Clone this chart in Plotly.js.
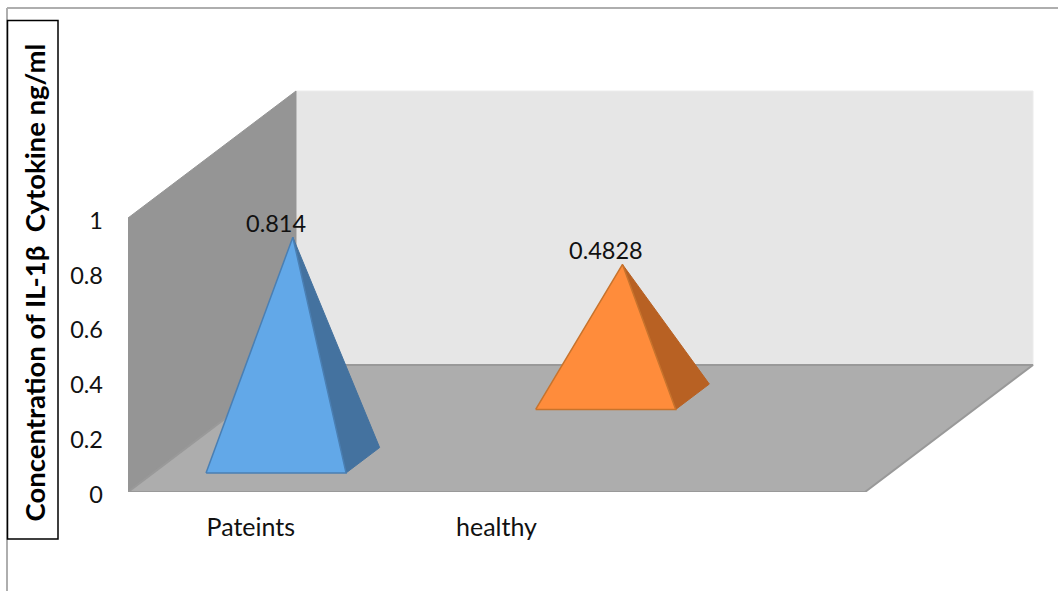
<!DOCTYPE html>
<html>
<head>
<meta charset="utf-8">
<script src="https://cdn.plot.ly/plotly-3.0.1.min.js"></script>
<style>html,body{margin:0;padding:0;background:#fff}#chart{width:1058px;height:591px}</style>
</head>
<body>
<div id="chart"></div>
<script>
// Cytokine concentration per group
const categories = ['Pateints', 'healthy'];
const values = [0.814, 0.4828];
const valueLabels = ['0.814', '0.4828'];
const valueTicks = [0, 0.2, 0.4, 0.6, 0.8, 1];
const seriesDepths = [0.25, 0.75];
const frontColors = ['#62a8e8', '#ff8c3b'];
const sideColors = ['#44729f', '#b86123'];
const edgeColors = ['#4a7fb3', '#c8732c'];

const W = 1058, H = 591;
const LEFT = 128, FLOOR_Y = 492;
const CATEGORY_PX = 245.67, VALUE_PX = 274;
const DEPTH_SHIFT_X = 168 / CATEGORY_PX, DEPTH_SHIFT_Y = 127 / VALUE_PX;
const HALF_WIDTH = 0.285, HALF_DEPTH = 0.10;
const FONT = 'Lato, Carlito, Calibri, sans-serif';

// Oblique projection of (category, depth, value) onto the plain x/y axes.
const project = (u, d, v) => [u + d * DEPTH_SHIFT_X, v + d * DEPTH_SHIFT_Y];

function face(points, fill, line, width) {
  const xy = points.map(p => project(p[0], p[1], p[2]));
  return {
    type: 'scatter', mode: 'lines', fill: 'toself', fillcolor: fill,
    x: xy.map(p => p[0]), y: xy.map(p => p[1]),
    line: {color: line, width: width}, hoverinfo: 'skip',
    cliponaxis: false, showlegend: false
  };
}

const UMIN = -0.5, UMAX = 2.5;
const traces = [
  face([[UMIN,1,0],[UMAX,1,0],[UMAX,1,1],[UMIN,1,1],[UMIN,1,0]], '#e6e6e6', '#ececec', 1),
  face([[UMIN,0,0],[UMIN,1,0],[UMIN,1,1],[UMIN,0,1],[UMIN,0,0]], '#959595', '#959595', 1),
  face([[UMIN,0,0],[UMAX,0,0],[UMAX,1,0],[UMIN,1,0],[UMIN,0,0]], '#adadad', '#999999', 2)
];

const annotations = [];
values.forEach((v, i) => {
  const d = seriesDepths[i];
  const bl = [i - HALF_WIDTH, d - HALF_DEPTH, 0];
  const br = [i + HALF_WIDTH, d - HALF_DEPTH, 0];
  const bb = [i + HALF_WIDTH, d + HALF_DEPTH, 0];
  const apex = [i, d, v];
  traces.push(face([br, bb, apex, br], sideColors[i], sideColors[i], 1));
  traces.push(face([bl, br, apex, bl], frontColors[i], edgeColors[i], 1.5));
  const top = project(apex[0], apex[1], apex[2]);
  annotations.push({
    x: top[0], y: top[1], xref: 'x', yref: 'y', text: valueLabels[i], showarrow: false,
    xshift: -16.5, yshift: 14, font: {family: FONT, size: 23.5, color: '#111'}
  });
});

// Pixel position to paper fraction of the plot area
const px = x => (x - LEFT) / (W - LEFT);
const py = y => 1 - y / FLOOR_Y;

annotations.push({
  x: px(33.5), y: py(283), xref: 'paper', yref: 'paper', xanchor: 'center', yanchor: 'middle',
  text: '<b>Concentration of IL-1β  Cytokine ng/ml</b>', textangle: -90, showarrow: false,
  font: {family: FONT, size: 27.5, color: '#000'}
});

const outline = {color: '#aeaeae', width: 2};
const layout = {
  width: W, height: H,
  margin: {l: LEFT, r: 0, t: 0, b: H - FLOOR_Y, pad: 0},
  paper_bgcolor: '#fff', plot_bgcolor: 'rgba(0,0,0,0)',
  showlegend: false,
  xaxis: {
    range: [UMIN, UMIN + (W - LEFT) / CATEGORY_PX], tickvals: [0, 1], ticktext: categories,
    showgrid: false, zeroline: false, showline: false, ticks: '', ticklabelstandoff: 18,
    tickfont: {family: FONT, size: 25, color: '#111'}, fixedrange: true
  },
  yaxis: {
    range: [0, FLOOR_Y / VALUE_PX], tickvals: valueTicks, ticktext: valueTicks.map(String),
    showgrid: false, zeroline: false, showline: false, ticks: '', ticklabelstandoff: 24,
    tickfont: {family: FONT, size: 23.5, color: '#111'}, fixedrange: true
  },
  annotations: annotations,
  shapes: [
    {type: 'line', xref: 'paper', yref: 'paper', x0: px(7), x1: px(W), y0: py(8), y1: py(8), line: outline},
    {type: 'line', xref: 'paper', yref: 'paper', x0: px(7), x1: px(7), y0: py(8), y1: py(H), line: outline},
    {type: 'rect', xref: 'paper', yref: 'paper', x0: px(7.5), x1: px(58), y0: py(20.5), y1: py(539),
     line: {color: '#000', width: 1.5}, fillcolor: '#fff'}
  ]
};

Plotly.newPlot('chart', traces, layout, {displayModeBar: false, staticPlot: true}).then(gd => {
  // Value labels sit slightly below their nominal height
  gd.querySelectorAll('.ytick text').forEach(t => t.setAttribute('dy', '2.5'));
});
</script>
</body>
</html>
